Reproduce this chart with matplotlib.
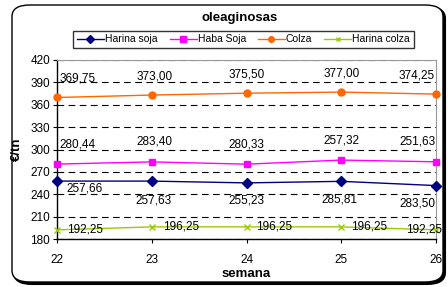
import matplotlib
matplotlib.use("Agg")
import matplotlib.pyplot as plt
from matplotlib.patches import FancyBboxPatch

plt.rcParams['font.family'] = ['Liberation Sans', 'DejaVu Sans']

semanas = [22, 23, 24, 25, 26]
harina_soja = [257.66, 257.63, 255.23, 257.32, 251.63]
haba_soja = [280.44, 283.40, 280.33, 285.81, 283.50]
colza = [369.75, 373.00, 375.50, 377.00, 374.25]
harina_colza = [192.25, 196.25, 196.25, 196.25, 192.25]

# labels as printed in the original (some are swapped between series)
lbl_harina_soja = ["257,66", "257,63", "255,23", "285,81", "283,50"]
lbl_haba_soja = ["280,44", "283,40", "280,33", "257,32", "251,63"]
lbl_colza = ["369,75", "373,00", "375,50", "377,00", "374,25"]
lbl_harina_colza = ["192,25", "196,25", "196,25", "196,25", "192,25"]

fig = plt.figure(figsize=(4.48, 2.87), dpi=100)

# outer rounded frame with shadow
W, H = 448.0, 287.0
shadow = FancyBboxPatch((14 / W, 3 / H), 431 / W, 277 / H,
                        boxstyle="round,pad=0,rounding_size=0.04",
                        transform=fig.transFigure, facecolor="black",
                        edgecolor="black", lw=1.5, zorder=-2)
frame = FancyBboxPatch((12 / W, 5 / H), 431 / W, 277 / H,
                       boxstyle="round,pad=0,rounding_size=0.04",
                       transform=fig.transFigure, facecolor="white",
                       edgecolor="black", lw=1.0, zorder=-1)
fig.patches.extend([shadow, frame])

ax = fig.add_axes([57 / W, 1 - 239 / H, 379 / W, 179 / H])
ax.set_facecolor("none")

ax.plot(semanas, harina_soja, color="#000080", marker="D", ms=5, lw=1, label="Harina soja", clip_on=False, zorder=3)
ax.plot(semanas, haba_soja, color="#FF00FF", marker="s", ms=5, lw=1, label="Haba Soja", clip_on=False, zorder=3)
ax.plot(semanas, colza, color="#FF6600", marker="o", ms=5, lw=1, label="Colza", clip_on=False, zorder=3)
ax.plot(semanas, harina_colza, color="#99CC00", marker="x", ms=4, mew=1, lw=1, label="Harina colza", clip_on=False, zorder=3)

ax.set_xlim(22, 26)
ax.set_ylim(180, 420)
ax.set_xticks(semanas)
ax.set_yticks(range(180, 421, 30))
ax.tick_params(labelsize=8.5, length=3, direction="out", pad=2)
ax.tick_params(axis="x", pad=8)
ax.yaxis.grid(True, color="black", ls=(0, (6, 4)), lw=0.8)
ax.set_axisbelow(True)
for s in ["top", "right"]:
    ax.spines[s].set_color("#999999")
ax.spines["left"].set_linewidth(1)
ax.spines["bottom"].set_linewidth(1)

ax.set_xlabel("semana", fontsize=9.5, fontweight="bold", labelpad=1)
ax.set_ylabel("€/tn", fontsize=9.5, fontweight="bold")
ax.yaxis.set_label_coords(-0.09, 0.5)

k = 0.72  # px -> points
fs = 8.5
colza_off = [(21, 19), (3, 19), (0, 19), (0, 19), (-19, 19)]
haba_off = [(21, 20), (3, 20), (0, 20), (0, 20), (-19, 20)]
soja_off = [(28, -7), (2, -19), (0, -18), (-2, -18), (-19, -18)]
hcolza_off = [(28, 0), (29, 0), (28, 0), (28, 0), (-12, 0)]

for i, x in enumerate(semanas):
    for vals, lbls, offs in [(colza, lbl_colza, colza_off), (haba_soja, lbl_haba_soja, haba_off),
                             (harina_soja, lbl_harina_soja, soja_off), (harina_colza, lbl_harina_colza, hcolza_off)]:
        dx, dy = offs[i]
        ax.annotate(lbls[i], (x, vals[i]), xytext=(dx * k, dy * k), textcoords="offset points",
                    ha="center", va="center", fontsize=fs, annotation_clip=False, zorder=4)

fig.text(240 / W, 1 - 18 / H, "oleaginosas", fontsize=9.5, fontweight="bold", ha="center", va="center")

leg = fig.legend(loc="center", bbox_to_anchor=(243.5 / W, 1 - 39.5 / H), ncol=4, fontsize=7.5,
                 frameon=True, fancybox=False, handlelength=2.6, columnspacing=1.15,
                 handletextpad=0.1, borderpad=0.35, borderaxespad=0, markerscale=0.8)
leg.get_frame().set_edgecolor("black")
leg.get_frame().set_linewidth(1)

fig.savefig("out.png", dpi=100)
